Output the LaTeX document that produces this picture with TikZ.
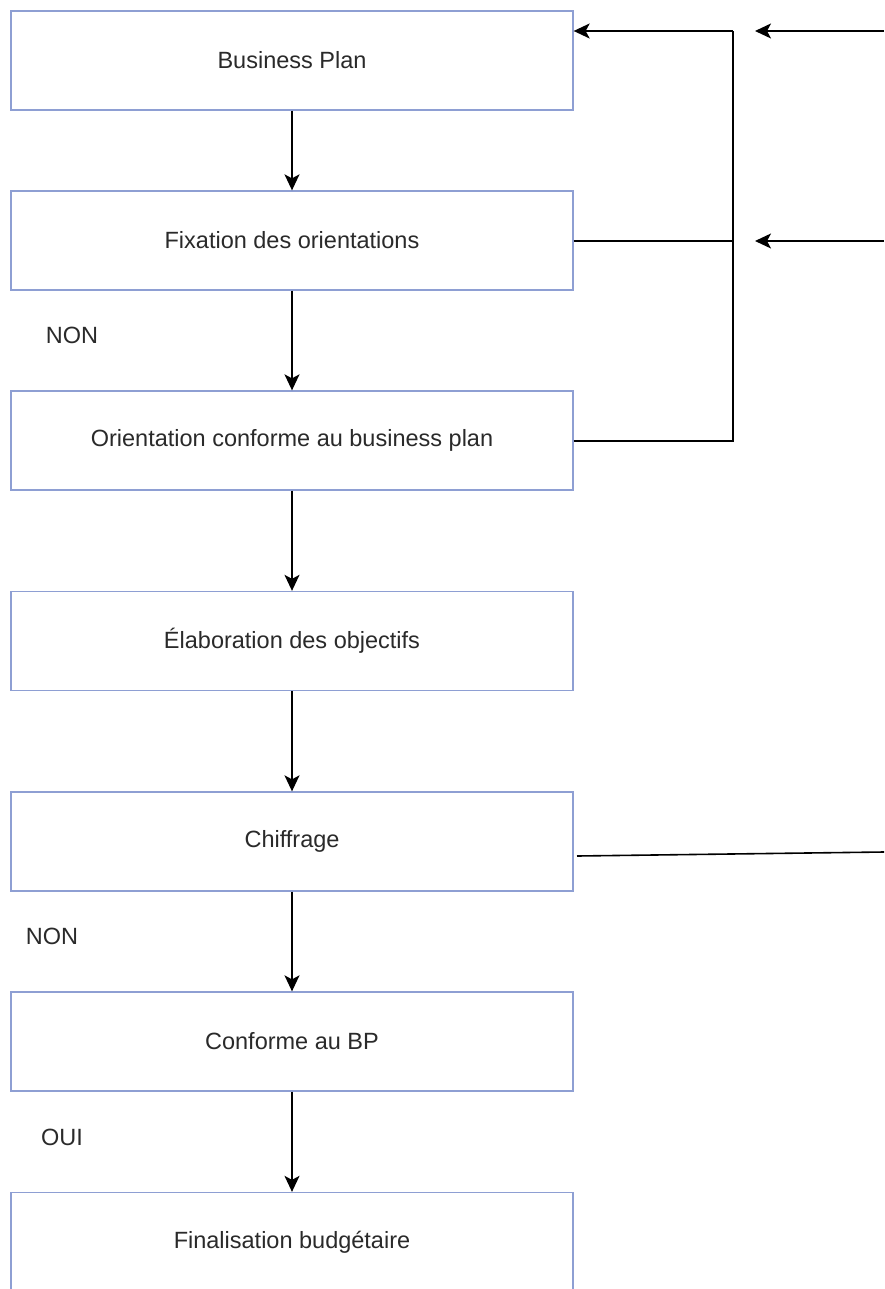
\documentclass[tikz,border=0pt]{standalone}
\usepackage{fontspec}
\setmainfont{Liberation Sans}
\usetikzlibrary{arrows.meta}
\definecolor{boxedge}{HTML}{8E9FD3}
\definecolor{ink}{HTML}{2A2A2A}
\tikzset{
  stepbox/.style={draw=boxedge, line width=1.3pt, fill=white, rectangle,
    minimum width=562pt, minimum height=99pt, inner sep=0pt,
    font=\fontsize{23.5}{28}\selectfont, text=ink},
  flow/.style={line width=1.6pt, -{Stealth[length=16pt,width=15pt,inset=4pt]}},
  link/.style={line width=1.6pt},
  tag/.style={font=\fontsize{23.5}{28}\selectfont, text=ink, inner sep=0pt}
}
\begin{document}
\begin{tikzpicture}[x=1pt, y=-1pt]
  \useasboundingbox (0,0) rectangle (884,1289);
  % main chain of steps
  \node[stepbox] (bp)    at (292,60.5)   {Business Plan};
  \node[stepbox] (fix)   at (292,240.5)  {Fixation des orientations};
  \node[stepbox] (orient)at (292,440.5)  {Orientation conforme au business plan};
  \node[stepbox] (obj)   at (292,641)    {Élaboration des objectifs};
  \node[stepbox] (chif)  at (292,841.5)  {Chiffrage};
  \node[stepbox] (conf)  at (292,1041.5) {Conforme au BP};
  \node[stepbox] (fin)   at (292,1242)   {Finalisation budgétaire};

  \draw[flow] (bp.south) -- (fix.north);
  \draw[flow] (fix.south) -- (orient.north);
  \draw[flow] (orient.south) -- (obj.north);
  \draw[flow] (obj.south) -- (chif.north);
  \draw[flow] (chif.south) -- (conf.north);
  \draw[flow] (conf.south) -- (fin.north);

  % decision labels
  \node[tag] (non1) at (72,335)  {NON};
  \node[tag] (non2) at (52,936)  {NON};
  \node[tag] (oui)  at (62,1137) {OUI};

  % feedback loop on the right
  \coordinate (bus)  at (733,31);
  \coordinate (busb) at (733,441);
  \coordinate (busm) at (733,241);
  \coordinate (bpin) at (bp.east |- bus);
  \draw[link] (orient.east |- busb) -- (busb) -- (bus);
  \draw[flow] (bus) -- (bpin);
  \draw[link] (fix.east |- busm) -- (busm);

  % incoming arrows from the right edge
  \coordinate (in1s) at (884,31);
  \coordinate (in1e) at (755,31);
  \coordinate (in2s) at (884,241);
  \coordinate (in2e) at (755,241);
  \draw[flow] (in1s) -- (in1e);
  \draw[flow] (in2s) -- (in2e);

  % outgoing line from Chiffrage
  \coordinate (chifo) at (577,856);
  \coordinate (chife) at (884,852);
  \draw[link] (chifo) -- (chife);
\end{tikzpicture}
\end{document}
